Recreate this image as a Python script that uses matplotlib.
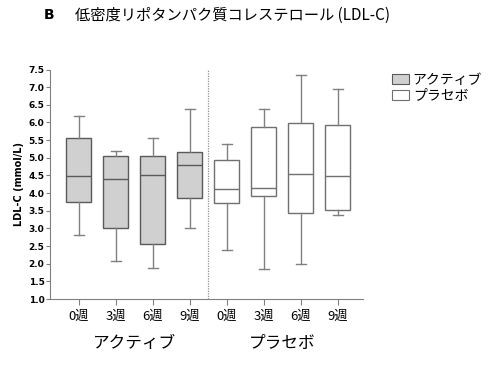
import matplotlib
matplotlib.use('Agg')
import matplotlib.pyplot as plt
from matplotlib.patches import Patch

plt.rcParams['font.family'] = ['Noto Sans CJK JP', 'DejaVu Sans']

weeks = ['0週', '3週', '6週', '9週', '0週', '3週', '6週', '9週']
groups = ['アクティブ', 'プラセボ']

# whisker low, Q1, median, Q3, whisker high
w_low = [2.80, 2.09, 1.89, 3.02, 2.40, 1.85, 2.00, 3.39]
q1 = [3.74, 3.01, 2.57, 3.86, 3.71, 3.93, 3.44, 3.51]
med = [4.48, 4.40, 4.50, 4.81, 4.11, 4.14, 4.54, 4.48]
q3 = [5.57, 5.06, 5.04, 5.16, 4.93, 5.86, 5.99, 5.92]
w_high = [6.17, 5.19, 5.55, 6.38, 5.38, 6.37, 7.34, 6.94]

stats = []
for i in range(len(weeks)):
    stats.append(dict(whislo=w_low[i], q1=q1[i], med=med[i], q3=q3[i],
                      whishi=w_high[i], fliers=[]))

fig = plt.figure(figsize=(5, 3.66), dpi=100)
ax = fig.add_axes([0.1, 0.183, 0.626, 0.627])

pos = list(range(len(weeks)))
bp = ax.bxp(stats, positions=pos, widths=0.68, patch_artist=True,
            showfliers=False, manage_ticks=False,
            whiskerprops=dict(color='#808080', lw=1.0),
            capprops=dict(color='#808080', lw=1.0),
            capwidths=0.28)
for i, b in enumerate(bp['boxes']):
    if i < 4:
        b.set_facecolor('#d0d0d0')
        b.set_edgecolor('#5a5a5a')
    else:
        b.set_facecolor('white')
        b.set_edgecolor('#707070')
    b.set_linewidth(1.0)
for i, m in enumerate(bp['medians']):
    m.set_color('#5a5a5a' if i < 4 else '#707070')
    m.set_linewidth(1.0)

ax.axvline(3.5, color='#909090', lw=0.9, ls=(0, (1, 1)))

ax.set_xlim(-0.78, 7.68)
ax.set_ylim(1.0, 7.5)
ax.set_yticks([1.0 + 0.5 * k for k in range(14)])
ax.set_yticklabels(['%.1f' % (1.0 + 0.5 * k) for k in range(14)],
                   family='DejaVu Sans', fontweight='bold', fontsize=6.5)
ax.set_xticks(pos)
ax.set_xticklabels(weeks, fontsize=9.5)
ax.tick_params(axis='x', length=4, color='#808080', pad=4)
ax.tick_params(axis='y', length=3, color='#808080', pad=1)
for s in ['top', 'right']:
    ax.spines[s].set_visible(False)
for s in ['left', 'bottom']:
    ax.spines[s].set_color('#808080')
ax.set_ylabel('LDL-C (mmol/L)', family='DejaVu Sans', fontweight='bold',
              fontsize=7, labelpad=3)

ax.text(1.5, -0.192, groups[0], transform=ax.get_xaxis_transform(),
        ha='center', va='center', fontsize=12)
ax.text(5.5, -0.192, groups[1], transform=ax.get_xaxis_transform(),
        ha='center', va='center', fontsize=12)

handles = [Patch(facecolor='#d0d0d0', edgecolor='#5a5a5a', lw=0.8),
           Patch(facecolor='white', edgecolor='#707070', lw=0.8)]
fig.legend(handles, groups, loc='upper left', bbox_to_anchor=(0.77, 0.82),
           frameon=False, fontsize=10, handlelength=1.2, handleheight=0.8,
           handletextpad=0.3, labelspacing=0.15, borderpad=0)

fig.text(0.088, 0.958, 'B', fontsize=10, fontweight='bold',
         family='DejaVu Sans', va='center')
fig.text(0.15, 0.958, '低密度リポタンパク質コレステロール (LDL-C)',
         fontsize=11, va='center')

fig.savefig('out.png', dpi=100)
